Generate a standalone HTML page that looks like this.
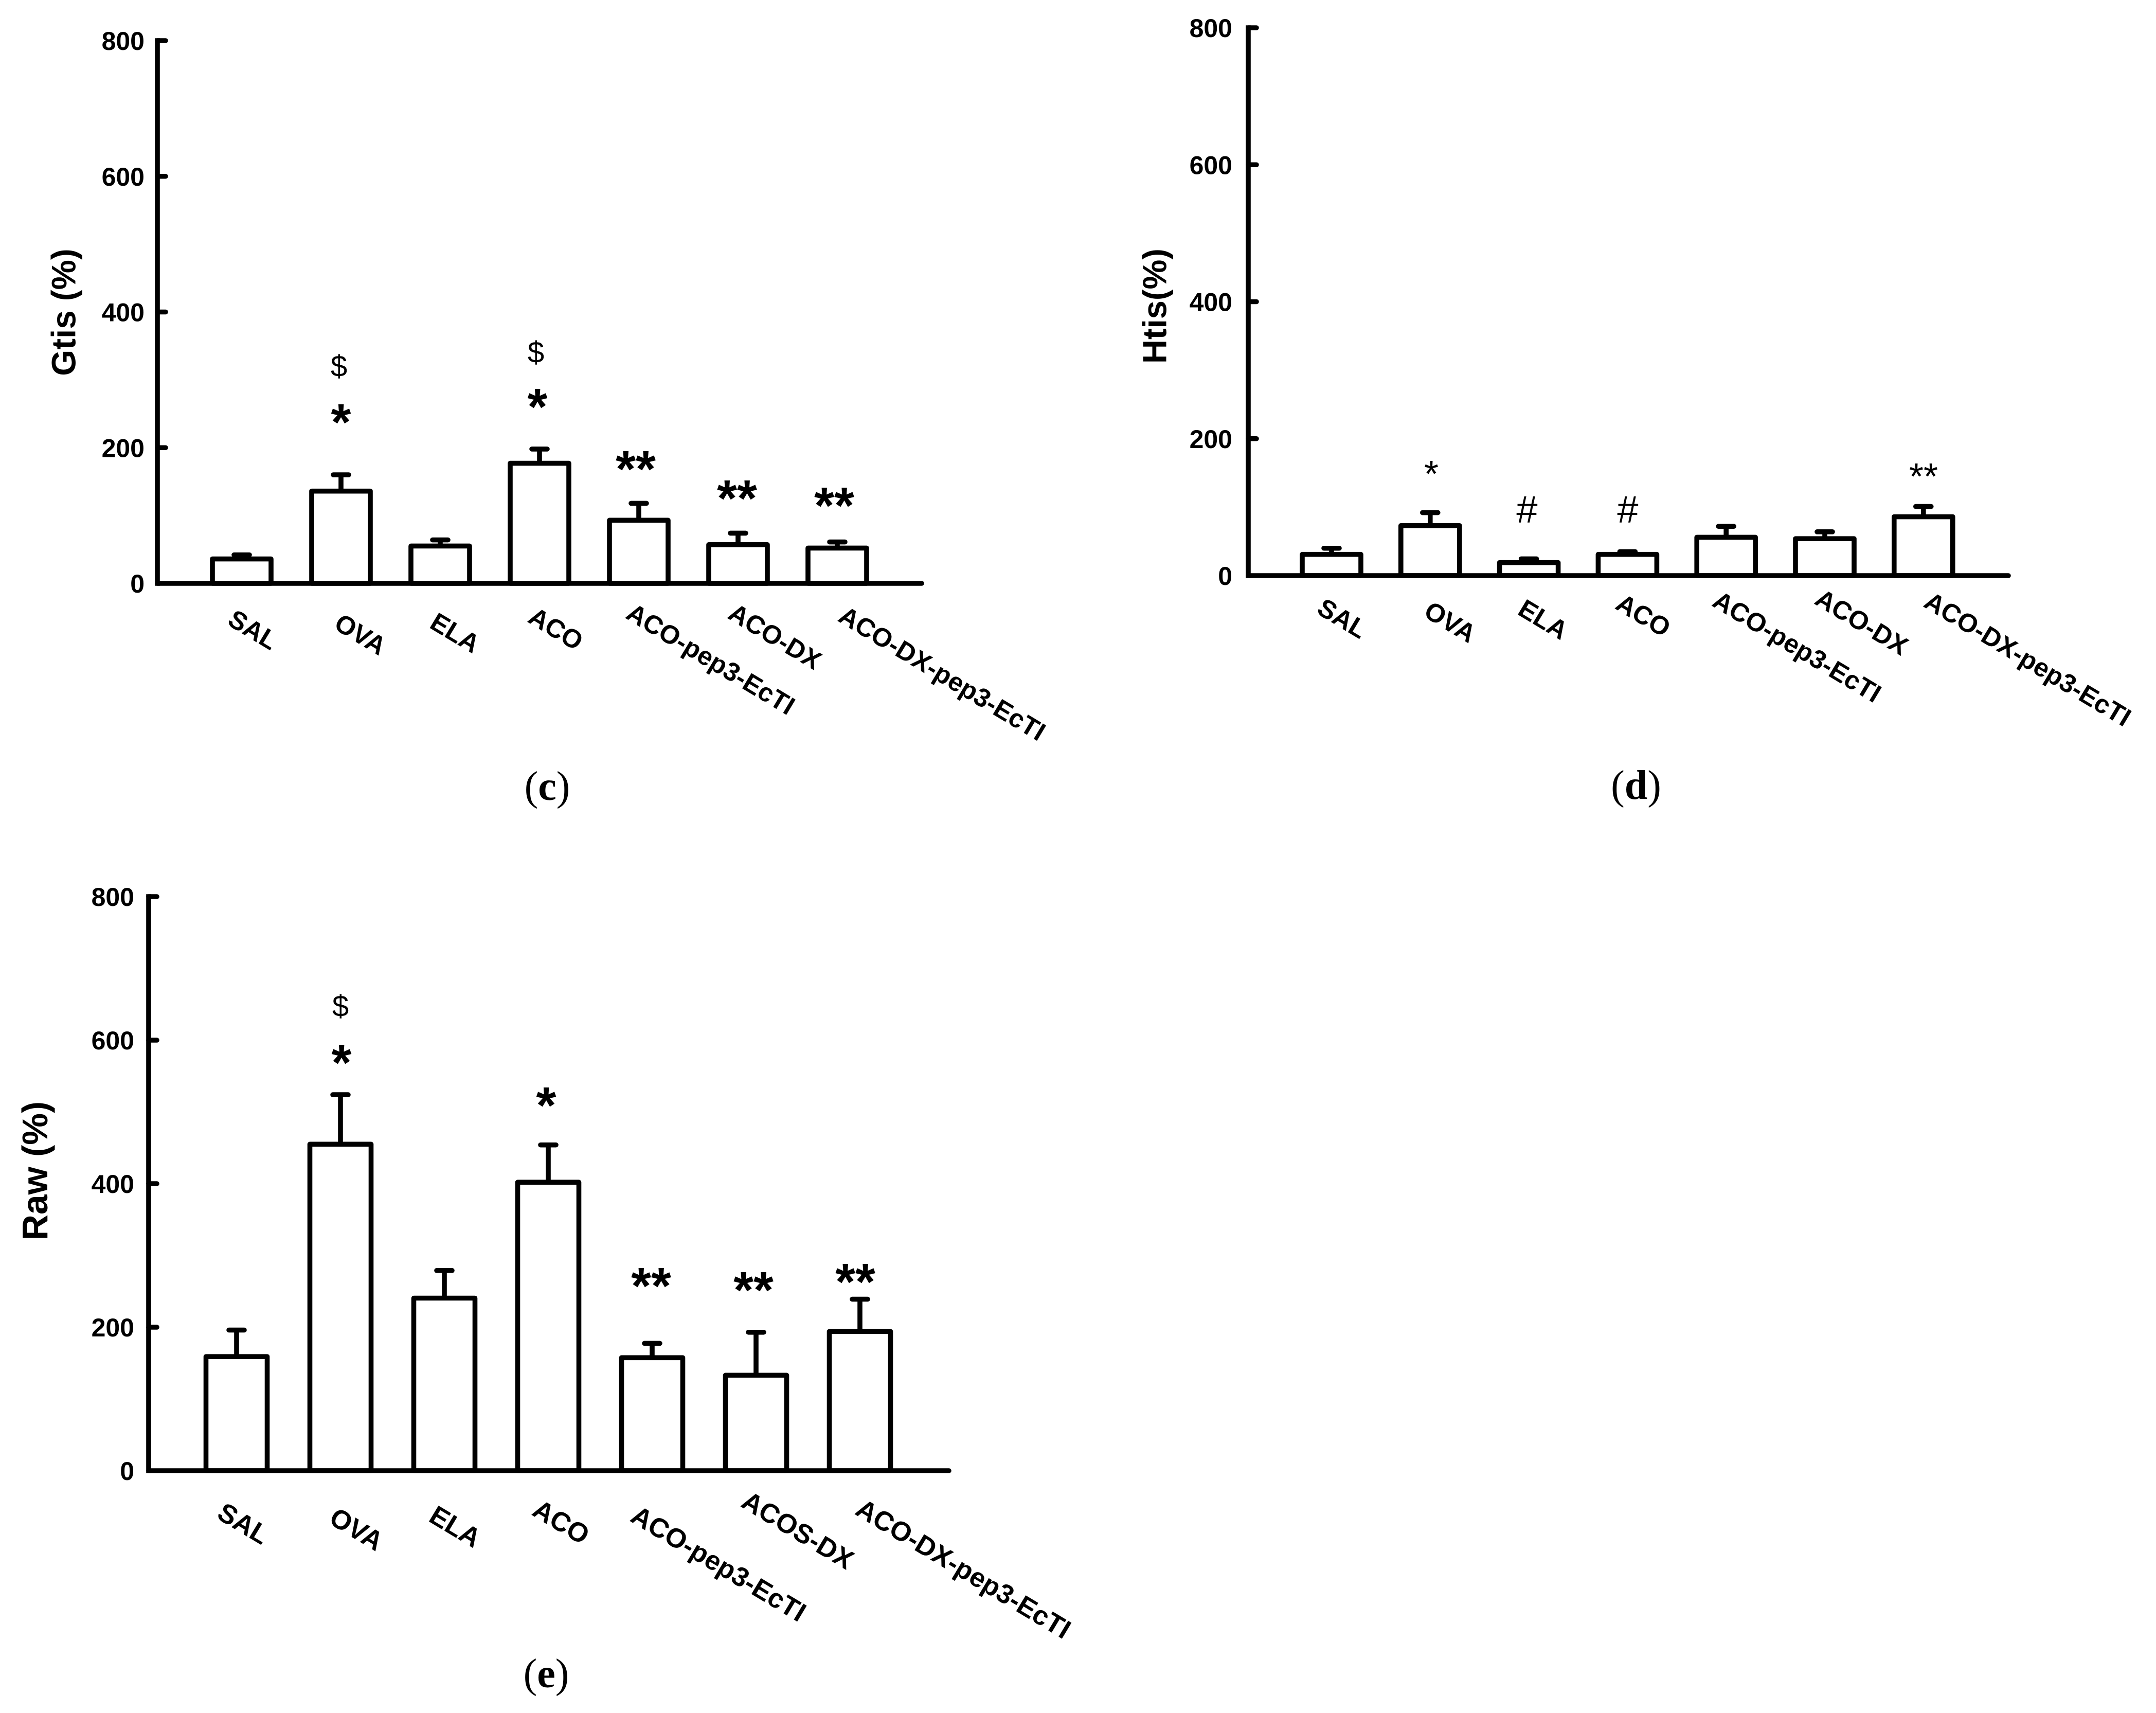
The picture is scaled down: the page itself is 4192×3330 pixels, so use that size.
<!DOCTYPE html>
<html lang="en">
<head>
<meta charset="utf-8">
<title>Respiratory mechanics bar charts</title>
<style>
html,body{margin:0;padding:0;background:#fff;}
svg{display:block;}
text{font-family:"Liberation Sans",sans-serif;fill:#000;}
.tick{font-size:50px;font-weight:700;}
.ytitle{font-weight:700;}
.cat{font-weight:700;}
.panel-letter{font-family:"Liberation Serif",serif;font-size:80px;}
.panel-letter tspan{font-weight:700;}
</style>
</head>
<body>
<svg id="figure" xmlns="http://www.w3.org/2000/svg" width="4192" height="3330" viewBox="0 0 4192 3330">
<rect width="4192" height="3330" fill="#fff"/>
</svg>
<script>
// ---- data ----
const tickValues = [0, 200, 400, 600, 800];
const tickLabels = ['0', '200', '400', '600', '800'];

const categoriesC = ['SAL', 'OVA', 'ELA', 'ACO', 'ACO-pep3-EcTI', 'ACO-DX', 'ACO-DX-pep3-EcTI'];
const meansC = [36, 136, 55, 177, 93, 57, 52];
const errorTopsC = [42, 160, 64, 198, 118, 74, 61];

const categoriesD = ['SAL', 'OVA', 'ELA', 'ACO', 'ACO-pep3-EcTI', 'ACO-DX', 'ACO-DX-pep3-EcTI'];
const meansD = [31, 73, 19, 31, 56, 54, 86];
const errorTopsD = [40, 92, 24.5, 35, 72, 64, 101];

const categoriesE = ['SAL', 'OVA', 'ELA', 'ACO', 'ACO-pep3-EcTI', 'ACOS-DX', 'ACO-DX-pep3-EcTI'];
const meansE = [159, 455, 240.5, 402, 157.5, 133, 194];
const errorTopsE = [196, 524, 279, 454, 177.5, 193, 239];

// ---- layout (not data) ----
const panels = [
  {id:'c', title:'Gtis (%)', categories:categoriesC, means:meansC, tops:errorTopsC,
   axisX:306, zeroY:1134, topY:79, xEnd:1792, firstBar:470, step:193, barW:114,
   tickRight:281, titleX:124, titleY:607, titleSize:65.5, catSize:50.5,
   labelDx:[22,38,29,32,140,72,204], labelY:[1224,1233,1230,1222,1281,1237,1309],
   letterX:1064, letterY:1555, letter:'c',
   marks:[['$',659,711,'d'],['*',663,802,'b'],['$',1042,684,'d'],['*',1045,772,'b'],['**',1236,893,'b'],['**',1433,950,'b'],['**',1622,964,'b']]},
  {id:'d', title:'Htis(%)', categories:categoriesD, means:meansD, tops:errorTopsD,
   axisX:2427, zeroY:1119, topY:54, xEnd:3905, firstBar:2589, step:191.8, barW:114,
   tickRight:2396, titleX:2245, titleY:595, titleSize:65, catSize:50.5,
   labelDx:[21,39,28,31,138,72,203], labelY:[1202,1209,1204,1196,1257,1209,1281],
   letterX:3181, letterY:1553, letter:'d',
   marks:[['*',2783,908,'s'],['#',2969,990,'h'],['#',3165,990,'h'],['**',3740,913,'s']]},
  {id:'e', title:'Raw (%)', categories:categoriesE, means:meansE, tops:errorTopsE,
   axisX:289, zeroY:2859, topY:1743, xEnd:1845, firstBar:460, step:202, barW:119,
   tickRight:261, titleX:68, titleY:2276, titleSize:69.5, catSize:52.5,
   labelDx:[13,31,21,25,129,81,201], labelY:[2962,2973,2968,2959,3040,2975,3050],
   letterX:1062, letterY:3280, letter:'e',
   marks:[['$',662,1955,'d'],['*',664,2047,'b'],['*',1062,2130,'b'],['**',1266,2481,'b'],['**',1465,2489,'b'],['**',1663,2473,'b']]}
];
const markStyles = {
  b:{size:100, weight:700, shift:0.53},
  s:{size:72, weight:400, shift:0.53},
  d:{size:58, weight:400, shift:0.35},
  h:{size:74, weight:400, shift:0.35}
};
const STROKE = 9.6;
const svg = document.getElementById('figure');
const NS = 'http://www.w3.org/2000/svg';

function make(tag, attrs, parent) {
  const el = document.createElementNS(NS, tag);
  for (const k in attrs) el.setAttribute(k, attrs[k]);
  parent.appendChild(el);
  return el;
}
function slug(s) {
  return s.toLowerCase().replace(/[^a-z0-9]+/g, '-');
}

panels.forEach(function (p) {
  const yScale = function (v) { return p.zeroY - (v / 800) * (p.zeroY - p.topY); };
  const xScale = function (i) { return p.firstBar + i * p.step; };

  const g = make('g', {}, svg);
  
  

  // bars and error bars
  p.categories.forEach(function (cat, i) {
    const cx = xScale(i);
    const stem = make('line', {x1:cx, x2:cx, y1:yScale(p.tops[i]), y2:yScale(p.means[i]), stroke:'#000', 'stroke-width':STROKE}, g);
    
    

    const cap = make('line', {x1:cx - 15, x2:cx + 15, y1:yScale(p.tops[i]), y2:yScale(p.tops[i]), stroke:'#000', 'stroke-width':STROKE, 'stroke-linecap':'round'}, g);
    
    

    const bar = make('rect', {x:cx - p.barW / 2, y:yScale(p.means[i]), width:p.barW, height:p.zeroY - yScale(p.means[i]), fill:'#fff', stroke:'#000', 'stroke-width':STROKE, 'stroke-linejoin':'round'}, g);
    
    

    const lab = make('text', {class:'cat', 'font-size':p.catSize, 'text-anchor':'middle', 'dominant-baseline':'central',
      transform:'translate(' + (cx + p.labelDx[i]) + ' ' + p.labelY[i] + ') rotate(31)'}, g);
    lab.textContent = cat;
    
    
  });

  // axes
  const yAxis = make('line', {x1:p.axisX, x2:p.axisX, y1:yScale(800) - STROKE / 2, y2:p.zeroY + STROKE / 2, stroke:'#000', 'stroke-width':STROKE}, g);
  
  

  const xAxis = make('line', {x1:p.axisX, x2:p.xEnd, y1:p.zeroY, y2:p.zeroY, stroke:'#000', 'stroke-width':STROKE, 'stroke-linecap':'round'}, g);
  
  

  tickValues.forEach(function (v, i) {
    if (v > 0) {
      const tick = make('line', {x1:p.axisX, x2:p.axisX + 16, y1:yScale(v), y2:yScale(v), stroke:'#000', 'stroke-width':STROKE, 'stroke-linecap':'round'}, g);
      
      
    }
    const t = make('text', {class:'tick', x:p.tickRight, y:yScale(v) + 18, 'text-anchor':'end'}, g);
    t.textContent = tickLabels[i];
    
    
  });

  // y-axis title
  const title = make('text', {class:'ytitle', 'font-size':p.titleSize, 'text-anchor':'middle', 'dominant-baseline':'central',
    transform:'translate(' + p.titleX + ' ' + p.titleY + ') rotate(-90)'}, g);
  title.textContent = p.title;
  
  

  // significance markers
  p.marks.forEach(function (m) {
    const st = markStyles[m[3]];
    const mk = make('text', {x:m[1], y:m[2] + st.size * st.shift, 'text-anchor':'middle', 'font-size':st.size, 'font-weight':st.weight}, g);
    mk.textContent = m[0];
    
    
  });

  // panel letter
  const letter = make('text', {class:'panel-letter', x:p.letterX, y:p.letterY, 'text-anchor':'middle'}, g);
  
  
  letter.appendChild(document.createTextNode('('));
  const bold = make('tspan', {}, letter);
  bold.textContent = p.letter;
  letter.appendChild(document.createTextNode(')'));
});
</script>
</body>
</html>
